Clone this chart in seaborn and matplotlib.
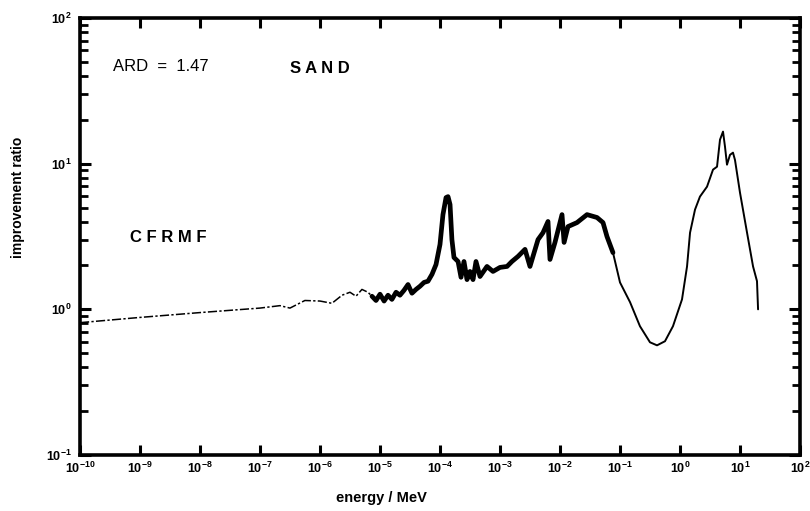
import matplotlib
matplotlib.use("Agg")
import matplotlib.pyplot as plt
from matplotlib.ticker import LogLocator, FixedLocator, NullFormatter
import seaborn as sns
import pandas as pd

# --- data (energy in MeV, improvement ratio) ---
energy_low = [1.0e-10, 1.0e-9, 1.0e-8, 1.0e-7, 2.15e-7, 3.16e-7, 5.6e-7, 1.0e-6,
              1.58e-6, 2.33e-6, 3.16e-6, 3.98e-6, 5.0e-6, 6.3e-6, 7.35e-6]
ratio_low = [0.81, 0.88, 0.95, 1.02, 1.06, 1.02, 1.15, 1.14,
             1.10, 1.25, 1.31, 1.23, 1.37, 1.31, 1.23]

energy_res = [7.35e-6, 8.58e-6, 1.0e-5, 1.17e-5, 1.36e-5, 1.58e-5, 1.85e-5, 2.15e-5,
              2.51e-5, 2.93e-5, 3.41e-5, 3.98e-5, 4.64e-5, 5.41e-5, 6.31e-5, 7.36e-5,
              8.58e-5, 1.0e-4, 1.12e-4, 1.26e-4, 1.36e-4, 1.47e-4, 1.58e-4, 1.71e-4,
              2.0e-4, 2.24e-4, 2.51e-4, 2.82e-4, 3.16e-4, 3.55e-4, 3.98e-4, 4.64e-4,
              6.07e-4, 7.64e-4, 1.0e-3, 1.31e-3, 1.58e-3, 2.0e-3, 2.61e-3, 3.16e-3,
              4.30e-3, 5.21e-3, 6.31e-3, 6.81e-3, 8.25e-3, 1.08e-2, 1.17e-2, 1.36e-2,
              1.92e-2, 2.82e-2, 4.14e-2, 5.21e-2, 6.07e-2, 7.64e-2]
ratio_res = [1.23, 1.15, 1.27, 1.14, 1.25, 1.17, 1.31, 1.25,
             1.35, 1.48, 1.29, 1.37, 1.44, 1.53, 1.56, 1.74,
             2.03, 2.79, 4.47, 5.85, 5.94, 5.24, 3.01, 2.27,
             2.13, 1.66, 2.13, 1.60, 1.82, 1.60, 2.13, 1.68,
             1.97, 1.82, 1.94, 1.97, 2.13, 2.31, 2.58, 1.97,
             3.01, 3.36, 4.01, 2.20, 2.88, 4.47, 2.88, 3.70,
             3.94, 4.47, 4.27, 3.94, 3.16, 2.45]

energy_fast = [7.64e-2, 0.1, 0.147, 0.215, 0.316, 0.414, 0.562, 0.764, 1.08, 1.31,
               1.47, 1.78, 2.15, 2.82, 3.55, 4.14, 4.64, 5.21, 5.62, 6.07,
               6.81, 7.64, 8.25, 10.0, 13.1, 16.5, 19.2, 20.0]
ratio_fast = [2.45, 1.53, 1.12, 0.766, 0.594, 0.566, 0.604, 0.766, 1.17, 1.97,
              3.36, 4.84, 5.94, 6.95, 9.10, 9.53, 14.6, 16.6, 13.1, 9.84,
              11.5, 11.9, 10.6, 6.32, 3.36, 1.97, 1.56, 1.0]

x_decades = list(range(-10, 3))
x_tick_labels = [r"$\mathbf{10^{%d}}$" % d for d in x_decades]
y_decades = [-1, 0, 1, 2]
y_tick_labels = [r"$\mathbf{10^{%d}}$" % d for d in y_decades]

sns.set_theme(style="white")
plt.rcParams['font.family'] = ['Liberation Sans', 'DejaVu Sans']
plt.rcParams['mathtext.fontset'] = 'custom'
plt.rcParams['mathtext.bf'] = 'Liberation Sans:bold'
for key in ['text.color', 'axes.labelcolor', 'xtick.color', 'ytick.color']:
    plt.rcParams[key] = 'black'

fig = plt.figure(figsize=(8.10, 5.11), dpi=100)
ax = fig.add_axes([80/810, 1-455/511, 720/810, 437/511])

df_low = pd.DataFrame({"E": energy_low, "R": ratio_low})
df_res = pd.DataFrame({"E": energy_res, "R": ratio_res})
df_fast = pd.DataFrame({"E": energy_fast, "R": ratio_fast})

sns.lineplot(data=df_low, x="E", y="R", ax=ax, color="black", lw=1.1,
             sort=False, estimator=None, linestyle=(0, (6, 1.5, 1.5, 1.5)))
sns.lineplot(data=df_res, x="E", y="R", ax=ax, color="black", lw=3.4,
             sort=False, estimator=None)
sns.lineplot(data=df_fast, x="E", y="R", ax=ax, color="black", lw=1.4,
             sort=False, estimator=None)

ax.set_xscale("log")
ax.set_yscale("log")
ax.set_xlim(1e-10, 1e2)
ax.set_ylim(0.1, 100)

ax.xaxis.set_major_locator(FixedLocator([10.0**d for d in x_decades]))
ax.xaxis.set_minor_locator(FixedLocator([]))
ax.set_xticklabels(x_tick_labels)
ax.yaxis.set_major_locator(FixedLocator([10.0**d for d in y_decades]))
ax.yaxis.set_minor_locator(LogLocator(base=10, subs=range(2, 10)))
ax.yaxis.set_minor_formatter(NullFormatter())
ax.set_yticklabels(y_tick_labels)

for s in ax.spines.values():
    s.set_visible(True)
    s.set_linewidth(2.6)
    s.set_color("black")

ax.tick_params(axis="x", which="major", direction="in", top=True, bottom=True,
               length=7, width=2.2, labelsize=9, pad=4, color="black")
ax.tick_params(axis="y", which="major", direction="in", left=True, right=True,
               length=8, width=2.2, labelsize=9, pad=6, color="black")
ax.tick_params(axis="y", which="minor", direction="in", left=True, right=True,
               length=6, width=2.0, color="black")

ax.set_xlabel("energy / MeV", fontsize=10.5, fontweight="bold")
ax.xaxis.set_label_coords(0.418, -0.082)
ax.set_ylabel("improvement ratio", fontsize=10, fontweight="bold")
ax.yaxis.set_label_coords(-0.076, 0.59)

ax.text(0.046, 0.888, "ARD  =  1.47", transform=ax.transAxes, fontsize=12,
        va="center", ha="left", family=["Liberation Sans Narrow", "Liberation Sans"])
ax.text(0.292, 0.885, "S A N D", transform=ax.transAxes, fontsize=12,
        fontweight="bold", va="center", ha="left")
ax.text(0.069, 0.497, "C F R M F", transform=ax.transAxes, fontsize=12,
        fontweight="bold", va="center", ha="left")

fig.savefig("out.png", dpi=100)
